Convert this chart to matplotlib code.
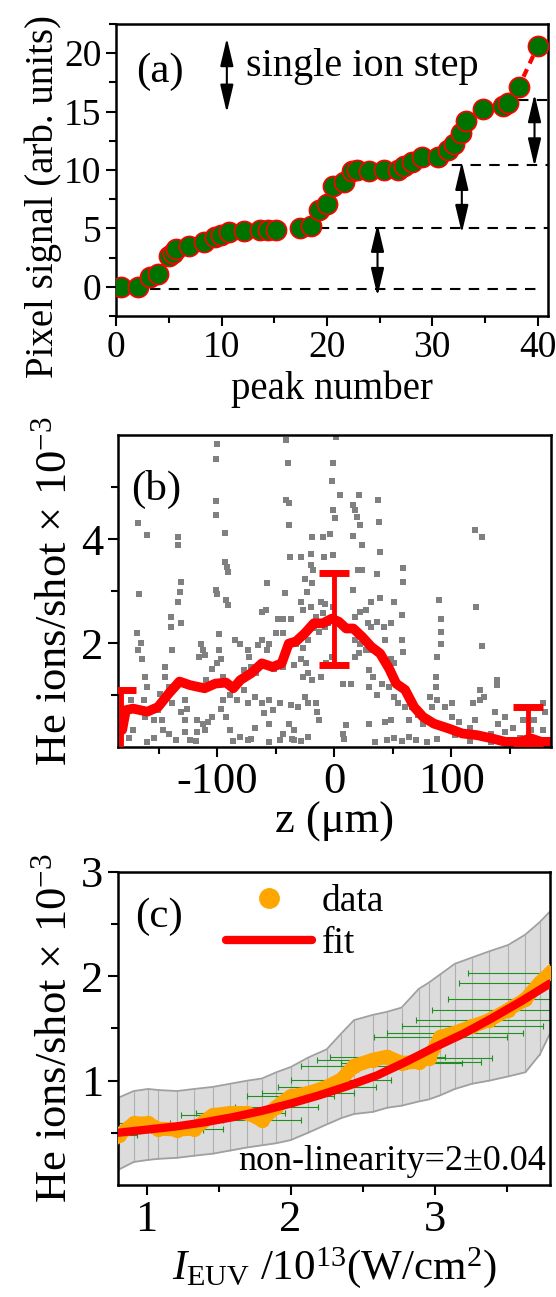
import numpy as np
import matplotlib.pyplot as plt
from matplotlib.ticker import FixedLocator

plt.rcParams['font.family'] = ['Liberation Serif', 'DejaVu Serif']
plt.rcParams['mathtext.fontset'] = 'custom'
plt.rcParams['mathtext.rm'] = 'Liberation Serif'
plt.rcParams['mathtext.it'] = 'Liberation Serif:italic'
plt.rcParams['axes.unicode_minus'] = False
plt.rcParams['font.size'] = 28

# ---- (a) peak signals
peak_x = [0.5, 2.1, 3.2, 4.0, 5.0, 5.4, 5.7, 6.9, 8.3, 9.4, 9.9, 10.7, 12.1, 13.6,
          14.4, 15.2, 17.4, 18.5, 19.2, 20.0, 20.6, 21.6, 22.4, 22.9, 24.0, 25.4,
          26.7, 27.3, 28.1, 29.0, 30.5, 31.45, 32.1, 32.7, 33.2, 34.8, 36.7, 37.2,
          38.2, 40.0]
peak_y = [0.0, 0.0, 0.8, 1.05, 2.6, 2.9, 3.2, 3.5, 3.8, 4.3, 4.4, 4.7, 4.75, 4.85,
          4.85, 4.85, 5.05, 5.2, 6.6, 7.05, 8.6, 9.0, 9.9, 10.0, 9.9, 10.0,
          10.0, 10.3, 10.65, 11.1, 11.1, 11.7, 12.2, 13.2, 14.2, 15.2, 15.45, 15.7,
          17.1, 20.6]
level_y = [-0.15, 5.0, 10.4, 16.0]
level_x0 = [3.2, 17.4, 30.1, 38.1]
level_x1 = [40.4, 41.0, 41.0, 41.0]
step_x = [24.8, 32.8, 39.7]
step_lo = [-0.8, 4.6, 10.3]
step_hi = [5.4, 10.7, 16.5]
key_x, key_lo, key_hi = 10.5, 14.9, 21.3

# ---- (b) ions per shot vs z
bg_pts = [(-167.5, 4.30), (-160.5, 4.08), (-166.9, 2.95), (-133.9, 4.04), (-133.9, 3.88),
          (-130.8, 3.18), (-132.3, 2.99), (-133.9, 2.79), (-140.0, 2.51), (-130.8, 2.39),
          (-140.0, 2.31), (-101.1, 4.73), (-101.1, 4.46), (-100.2, 5.82), (-101.1, 5.54),
          (-93.5, 4.11), (-93.5, 3.56), (-91.6, 3.47), (-91.0, 3.37), (-101.0, 3.02),
          (-100.0, 2.95), (-92.6, 2.83), (-91.0, 2.73), (-98.7, 2.17), (-168.5, 2.20),
          (-165.4, 2.01), (-164.5, 1.70), (-167.5, 1.86), (-41.2, 5.90), (-40.0, 5.47),
          (-41.2, 4.75), (-39.0, 4.70), (-39.0, 4.27), (-38.1, 3.66), (-28.9, 3.66),
          (-19.7, 3.72), (-19.1, 4.03), (-9.9, 4.04), (-3.8, 4.10), (-9.3, 3.66),
          (-0.8, 3.69), (-0.8, 5.47), (-2.3, 5.12), (4.7, 4.85), (-0.8, 4.56),
          (0.8, 4.40), (1.0, 5.97), (21.3, 4.85), (16.1, 4.65), (17.6, 4.56), (19.1, 4.43),
          (22.2, 4.27), (16.1, 4.06), (23.7, 3.88), (37.5, 4.76), (38.4, 4.33),
          (39.0, 3.76), (20.0, 3.40), (15.5, 3.02), (23.7, 3.40), (36.0, 3.33),
          (-19.7, 3.50), (-18.5, 3.40), (-25.2, 3.24), (-19.1, 3.15), (-23.7, 2.99),
          (-57.4, 3.15), (-42.1, 2.97), (-28.9, 2.79), (-26.8, 2.64), (-19.7, 2.70),
          (-11.5, 2.79), (-8.4, 2.75), (-0.8, 2.70), (26.8, 2.64), (31.4, 2.79),
          (39.0, 2.86), (22.2, 2.60), (17.6, 2.51), (51.3, 2.79), (57.4, 2.54),
          (58.3, 3.44), (58.3, 3.18), (89.5, 2.83), (91.0, 2.47), (91.0, 2.22),
          (91.0, 1.99), (88.0, 1.74), (86.4, 1.35), (120.1, 4.17), (126.2, 4.04),
          (121.0, 2.70), (126.2, 1.94), (57.4, 2.06), (59.0, 1.83), (36.0, 2.41),
          (-62.0, 2.60), (-58.3, 2.64), (-48.2, 2.46), (-43.6, 2.46), (-37.5, 2.46),
          (-43.6, 2.19), (-49.7, 2.19), (-55.8, 1.99), (-62.0, 2.06), (-65.0, 1.96),
          (-57.4, 1.86), (-114.0, 1.99), (-112.5, 1.86), (-110.9, 1.77), (-115.5, 1.74),
          (-104.8, 1.51), (-95.6, 1.35), (-104.8, 1.19), (-109.4, 1.29), (-144.6, 1.54),
          (-138.5, 1.86), (-144.6, 1.35), (-141.5, 1.16), (-149.2, 1.03), (-138.5, 0.84),
          (-127.8, 0.90), (-126.2, 0.74), (-127.8, 0.52), (-130.8, 0.68),
          (-161.4, 1.35), (-159.9, 1.16), (-163.0, 0.90), (-172.1, 0.33), (-175.2, 0.17),
          (-153.8, 0.17), (-146.1, 0.33), (-141.5, 0.26), (-135.4, 0.13), (-127.8, 0.29),
          (-123.2, 0.13), (-117.0, 0.29), (-110.9, 0.33), (-107.9, 0.49), (-104.8, 0.58),
          (-97.2, 0.74), (-95.6, 0.90), (-89.5, 1.00), (-83.4, 0.90), (-77.3, 1.10),
          (-74.2, 0.84), (-68.1, 0.97), (-62.0, 0.84), (-55.8, 0.90), (-60.4, 0.65),
          (-52.8, 0.71), (-46.7, 0.84), (-37.5, 0.81), (-39.0, 0.45), (-34.4, 0.33),
          (-31.4, 0.77), (-25.2, 0.97), (-22.2, 0.84), (-16.1, 0.84), (-14.5, 0.68),
          (-13.6, 0.52), (-11.5, 1.35), (-6.9, 1.61), (-2.3, 1.74), (6.9, 1.22),
          (14.5, 1.22), (10.0, 0.42), (6.9, 0.26), (17.6, 1.74), (20.7, 1.80),
          (26.8, 1.87), (31.4, 1.87), (29.8, 1.48), (33.0, 1.35), (29.8, 1.16),
          (36.0, 1.00), (40.6, 1.22), (46.7, 1.16), (29.8, 0.45), (43.6, 0.49),
          (48.2, 0.52), (45.2, 0.13), (51.3, 0.17), (54.3, 0.84), (51.3, 0.97),
          (60.4, 0.77), (66.6, 0.77), (63.5, 0.52), (71.2, 0.61), (75.7, 0.45),
          (69.6, 0.13), (78.8, 0.10), (86.4, 1.16), (81.9, 0.97), (88.0, 0.90),
          (83.4, 0.77), (94.1, 0.77), (100.2, 0.84), (100.2, 0.58), (97.2, 0.39),
          (106.3, 0.49), (103.3, 0.23), (124.7, 1.10), (127.8, 0.97), (118.6, 0.84),
          (124.7, 0.90), (120.1, 0.52), (115.5, 0.36), (138.5, 1.29), (138.5, 1.19),
          (137.0, 0.68), (146.1, 0.58), (140.0, 0.45), (133.9, 0.26), (146.1, 0.29),
          (152.2, 0.36), (161.4, 0.52), (167.5, 0.33), (170.6, 0.52), (178.2, 0.84),
          (179.8, 0.68), (178.2, 0.33), (133.9, 0.10), (-98.7, 1.86), (-100.2, 1.61),
          (-97.2, 1.70), (-84.9, 2.06), (-80.3, 1.99), (-74.2, 1.86), (-72.7, 1.74),
          (-77.3, 1.48), (-71.2, 1.54), (-66.6, 1.42), (-51.2, 1.51), (-43.6, 1.54),
          (-46.7, 1.61), (-34.4, 1.58), (-28.3, 1.70), (-24.6, 1.61), (-26.8, 1.35),
          (-22.2, 1.42), (-19.1, 1.29), (-32.9, 1.99), (-26.8, 1.90), (-22.2, 2.06),
          (-17.6, 2.28), (-13.0, 2.22), (-8.4, 2.31), (-16.1, 2.51), (-5.4, 2.38),
          (-9.9, 2.57), (11.5, 2.31), (17.6, 2.06), (22.2, 1.99), (26.8, 2.06),
          (31.4, 2.31), (28.3, 2.38), (42.1, 2.31), (43.6, 2.06), (48.2, 2.38),
          (51.3, 1.61), (48.2, 1.70), (-150.7, 0.71), (-153.8, 0.52), (-147.6, 0.52),
          (-161.4, 0.58), (-172.1, 0.71), (-173.6, 0.90), (-92.6, 0.58), (-89.5, 0.33),
          (-80.3, 0.20), (-74.2, 0.13), (-68.1, 0.36), (-55.8, 0.45), (-46.7, 0.13),
          (-43.6, 0.26), (-34.4, 0.13), (-117.0, 0.52), (-112.5, 0.45),
          (-118.6, 0.12), (-71.1, 0.15), (-36.0, 0.15), (-28.3, 0.12), (-22.2, 0.20),
          (8.4, 0.15), (57.4, 0.12), (63.5, 0.20), (88.0, 0.15), (115.5, 0.12),
          (140.0, 0.15), (158.4, 0.18), (-87.0, 0.12), (-56.0, 0.10), (35.0, 0.10),
          (-160.0, 0.10)]
bg_z = [p[0] for p in bg_pts]
bg_y = [p[1] for p in bg_pts]

avg_z = [-181.3, -178.2, -172.1, -159.9, -150.7, -141.5, -132.4, -123.2, -110.9, -101.8,
         -92.6, -86.4, -80.3, -71.1, -62.0, -52.8, -45.1, -39.0, -32.9, -25.2, -17.6,
         -9.9, -2.3, 3.8, 10.0, 16.1, 23.7, 31.4, 39.0, 46.7, 52.8, 60.4, 68.1, 75.7,
         85.0, 97.2, 109.4, 121.6, 133.9, 146.1, 158.4, 167.5, 176.7, 184.4]
avg_y = [0.33, 0.71, 0.74, 0.68, 0.77, 1.03, 1.26, 1.19, 1.13, 1.22,
         1.24, 1.13, 1.29, 1.42, 1.61, 1.54, 1.61, 1.99, 2.03, 2.19, 2.38,
         2.38, 2.47, 2.41, 2.28, 2.28, 2.12, 1.93, 1.80, 1.51, 1.22, 1.10, 0.77, 0.58,
         0.45, 0.36, 0.26, 0.23, 0.17, 0.10, 0.10, 0.17, 0.10, 0.10]
bar_z = [-182.0, 0.0, 165.0]
bar_y = [0.5, 2.46, 0.42]
bar_e = [0.6, 0.89, 0.35]

# ---- (c) ions per shot vs intensity
c_x = [0.81, 0.91, 1.01, 1.08, 1.21, 1.33, 1.46, 1.58, 1.70, 1.80, 1.90, 2.00, 2.12, 2.25,
       2.35, 2.44, 2.57, 2.67, 2.77, 2.89, 2.96, 3.04, 3.14, 3.26, 3.38, 3.51, 3.63, 3.73, 3.80]
c_y = [0.48, 0.59, 0.59, 0.54, 0.53, 0.54, 0.67, 0.69, 0.69, 0.62, 0.75, 0.85, 0.88, 0.94,
       1.01, 1.14, 1.20, 1.23, 1.17, 1.18, 1.22, 1.42, 1.46, 1.52, 1.58, 1.68, 1.78, 1.94, 2.03]
c_hi = [0.84, 0.90, 0.92, 0.91, 0.90, 0.92, 0.94, 0.97, 1.00, 1.02, 1.08, 1.13, 1.22, 1.30,
        1.45, 1.58, 1.63, 1.66, 1.70, 1.88, 1.94, 2.02, 2.12, 2.18, 2.24, 2.30, 2.40, 2.52, 2.62]
c_lo = [0.15, 0.22, 0.24, 0.25, 0.26, 0.28, 0.30, 0.33, 0.36, 0.38, 0.40, 0.43, 0.50, 0.58,
        0.64, 0.68, 0.70, 0.74, 0.76, 0.80, 0.82, 0.86, 0.92, 0.97, 1.00, 1.04, 1.08, 1.25, 1.45]
c_xerr = [0.12, 0.13, 0.15, 0.16, 0.18, 0.20, 0.22, 0.24, 0.26, 0.27, 0.29, 0.30, 0.32, 0.34,
          0.35, 0.37, 0.39, 0.40, 0.42, 0.43, 0.44, 0.46, 0.47, 0.49, 0.51, 0.53, 0.54, 0.56, 0.57]
fit_x = [0.8, 1.0, 1.2, 1.4, 1.6, 1.8, 2.0, 2.2, 2.4, 2.6, 2.8, 3.0, 3.2, 3.4, 3.6, 3.8]
fit_y = [0.50, 0.53, 0.56, 0.60, 0.65, 0.71, 0.78, 0.86, 0.95, 1.05, 1.18, 1.32, 1.45, 1.60, 1.76, 1.93]


def style(ax, size):
    for s in ax.spines.values():
        s.set_linewidth(1.8)
    ax.tick_params(which='both', direction='out', width=1.5, top=False, right=False,
                   labelsize=size)
    ax.tick_params(which='major', length=7)
    ax.tick_params(which='minor', length=5)


fig = plt.figure(figsize=(5.56, 12.97), dpi=100)
axa = fig.add_axes([0.209, 0.7564, 0.777, 0.2251])
axb = fig.add_axes([0.212, 0.424, 0.779, 0.2406])
axc = fig.add_axes([0.212, 0.0864, 0.777, 0.2413])

# (a)
axa.hlines(level_y, level_x0, level_x1, colors='black', linestyles=(0, (5, 4)), lw=1.5, zorder=1)
axa.plot(peak_x, peak_y, color='red', ls=(0, (2, 1.5)), lw=3, marker='o', ms=14.5,
         mfc='#007200', mec='red', mew=1.2, zorder=3)
arr = dict(arrowstyle='<|-|>,head_length=0.85,head_width=0.2', color='black', lw=1.5,
           shrinkA=0, shrinkB=0, mutation_scale=20)
for x, lo, hi in zip(step_x, step_lo, step_hi):
    axa.annotate('', xy=(x, hi), xytext=(x, lo), arrowprops=arr, zorder=4)
axa.annotate('', xy=(key_x, key_hi), xytext=(key_x, key_lo), arrowprops=arr)
axa.text(12.3, 18.85, 'single ion step', va='center', fontsize=29)
axa.text(0.046, 0.836, '(a)', transform=axa.transAxes, va='center', fontsize=31)
axa.set_xlim(0, 41)
axa.set_ylim(-2.5, 22.5)
axa.xaxis.set_major_locator(FixedLocator([0, 10, 20, 30, 40]))
axa.xaxis.set_minor_locator(FixedLocator([5, 15, 25, 35]))
axa.yaxis.set_major_locator(FixedLocator([0, 5, 10, 15, 20]))
axa.yaxis.set_minor_locator(FixedLocator([-2.5, 2.5, 7.5, 12.5, 17.5, 22.5]))
axa.set_xlabel('peak number', fontsize=28)
axa.set_ylabel('Pixel signal (arb. units)', fontsize=28)
axa.yaxis.set_label_coords(-0.125, 0.41)
style(axa, 27)

# (b)
axb.plot(bg_z, bg_y, 's', color='#808080', ms=5, mew=0, zorder=1)
axb.plot(avg_z, avg_y, color='red', lw=7, solid_capstyle='round', solid_joinstyle='round', zorder=2)
axb.errorbar(bar_z, bar_y, yerr=bar_e, fmt='none', ecolor='red', elinewidth=3.5,
             capsize=11, capthick=5, zorder=3)
axb.text(0.03, 0.824, '(b)', transform=axb.transAxes, va='center', fontsize=31)
axb.set_xlim(-185, 185)
axb.set_ylim(0, 6)
axb.xaxis.set_major_locator(FixedLocator([-100, 0, 100]))
axb.xaxis.set_minor_locator(FixedLocator([-150, -50, 50, 150]))
axb.yaxis.set_major_locator(FixedLocator([2, 4]))
axb.yaxis.set_minor_locator(FixedLocator([1, 3, 5]))
axb.set_xlabel('z (μm)', fontsize=32, labelpad=0)
axb.set_ylabel(r'He ions/shot × 10$^{-3}$', fontsize=32)
style(axb, 32)

# (c)
axc.fill_between(c_x, c_lo, c_hi, color='#dcdcdc', lw=0, zorder=1)
axc.vlines(c_x, c_lo, c_hi, color='#b0b0b0', lw=0.8, zorder=1)
axc.plot(c_x, c_hi, color='#a0a0a0', lw=1.3, zorder=1)
axc.plot(c_x, c_lo, color='#a0a0a0', lw=1.3, zorder=1)
axc.errorbar(c_x, c_y, xerr=c_xerr, fmt='none', ecolor='#1f8f1f', elinewidth=0.8,
             capsize=2, capthick=0.8, zorder=2)
axc.plot(c_x, c_y, color='orange', lw=10, solid_joinstyle='round', zorder=3)
axc.plot(c_x, c_y, 'o', color='orange', ms=10, label='data', zorder=3)
axc.plot(fit_x, fit_y, color='red', lw=6, solid_capstyle='round', label='fit', zorder=4)
axc.legend(loc='upper left', bbox_to_anchor=(0.25, 0.96), frameon=False, fontsize=27,
           handlelength=2.3, handletextpad=0.25, labelspacing=0.2, borderpad=0,
           borderaxespad=0, markerscale=1.4)
axc.text(0.04, 0.856, '(c)', transform=axc.transAxes, va='center', fontsize=31)
axc.text(0.99, 0.075, 'non-linearity=2±0.04', transform=axc.transAxes, ha='right',
         va='center', fontsize=26)
axc.set_xlim(0.8, 3.8)
axc.set_ylim(0, 3)
axc.xaxis.set_major_locator(FixedLocator([1, 2, 3]))
axc.xaxis.set_minor_locator(FixedLocator([1.5, 2.5, 3.5]))
axc.yaxis.set_major_locator(FixedLocator([1, 2, 3]))
axc.yaxis.set_minor_locator(FixedLocator([0.5, 1.5, 2.5]))
axc.set_xlabel(r'$I_{\rm EUV}$ /10$^{13}$(W/cm$^{2}$)', fontsize=31)
axc.set_ylabel(r'He ions/shot × 10$^{-3}$', fontsize=32)
style(axc, 32)

fig.savefig('out.png', dpi=100)
